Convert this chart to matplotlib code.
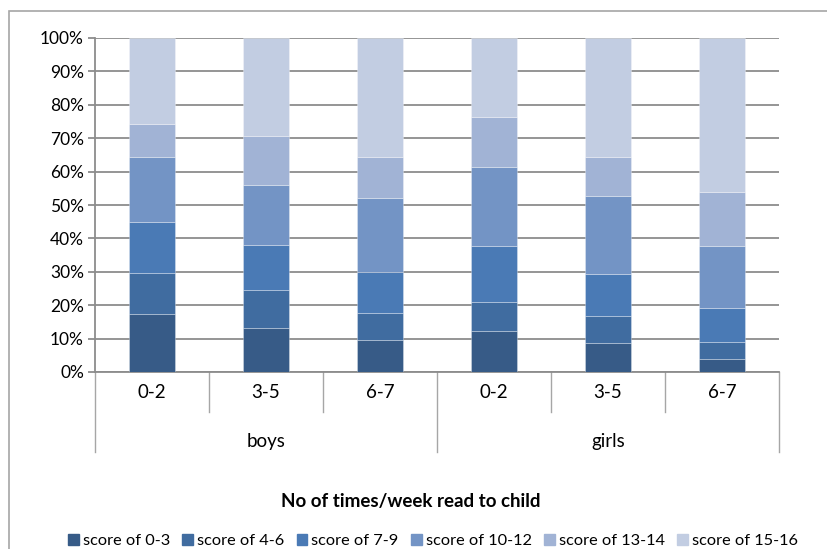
import matplotlib.pyplot as plt
from matplotlib.lines import Line2D
from matplotlib.patches import Rectangle
import numpy as np

plt.rcParams['font.family'] = ['Lato', 'DejaVu Sans']

GROUPS = ["boys", "girls"]
FREQ = ["0-2", "3-5", "6-7"]
SERIES = ["score of 0-3", "score of 4-6", "score of 7-9",
          "score of 10-12", "score of 13-14", "score of 15-16"]

# percent share per series, order: boys 0-2, 3-5, 6-7, girls 0-2, 3-5, 6-7
S0_3 = [17.5, 13.2, 9.7, 12.4, 8.8, 4.0]
S4_6 = [12.0, 11.3, 8.1, 8.7, 8.1, 5.1]
S7_9 = [15.4, 13.5, 12.2, 16.6, 12.5, 10.2]
S10_12 = [19.4, 18.0, 22.2, 23.8, 23.4, 18.5]
S13_14 = [10.0, 14.7, 12.2, 14.7, 11.6, 16.1]
S15_16 = [25.7, 29.3, 35.6, 23.8, 35.6, 46.1]

COLORS = ["#375B87", "#406CA0", "#4A7AB5", "#7394C5", "#A1B3D5", "#C2CDE2"]

fig = plt.figure(figsize=(8.27, 5.49), dpi=100)
ax = fig.add_axes([95 / 827, 177 / 549, 684 / 827, 334 / 549])

# chart border (cut off at right/bottom in the original)
fig.patches.append(Rectangle((9 / 827, -0.05), 1.0, (549 - 11) / 549 + 0.05,
                             transform=fig.transFigure, fill=False,
                             edgecolor="#A6A6A6", lw=1.2))

x = np.arange(6)
bottom = np.zeros(6)
data = [S0_3, S4_6, S7_9, S10_12, S13_14, S15_16]
for vals, name, col in zip(data, SERIES, COLORS):
    v = np.array(vals)
    ax.bar(x, v, width=0.4, bottom=bottom, color=col, label=name,
           edgecolor=(1, 1, 1, 0.35), linewidth=0.6, zorder=3)
    bottom += v

ax.set_xlim(-0.5, 5.5)
ax.set_ylim(0, 100)
ax.set_yticks(np.arange(0, 101, 10))
ax.set_yticklabels([f"{t}%" for t in range(0, 101, 10)])
ax.yaxis.grid(True, color="#8C8C8C", lw=1.3, zorder=0)
ax.tick_params(axis="y", length=5, width=1.3, color="#8C8C8C", labelsize=12.5, pad=3)
ax.set_xticks([])
for s in ["top", "right"]:
    ax.spines[s].set_visible(False)
for s in ["left", "bottom"]:
    ax.spines[s].set_color("#8C8C8C")
    ax.spines[s].set_linewidth(1.3)

# multi-level category axis
trans = ax.get_xaxis_transform()
px = 1 / 334  # one pixel in axes height units
row1 = -40 * px
row2 = -80 * px
for b in [-0.5, 0.5, 1.5, 2.5, 3.5, 4.5, 5.5]:
    low = row2 if b in (-0.5, 2.5, 5.5) else row1
    ax.add_line(Line2D([b, b], [0, low], transform=trans, color="#A6A6A6",
                       lw=1.0, clip_on=False))
for i in range(6):
    ax.text(i, -21 * px, FREQ[i % 3], transform=trans, ha="center",
            va="center", fontsize=13.5)
for j, g in enumerate(GROUPS):
    ax.text(1 + 3 * j, -69 * px, g, transform=trans, ha="center",
            va="center", fontsize=13.5)

fig.text(411 / 827, 1 - 501 / 549, "No of times/week read to child",
         ha="center", va="center", fontsize=13.5, fontweight="bold")

handles = [Rectangle((0, 0), 1, 1, color=c) for c in COLORS]
fig.legend(handles, SERIES, loc="center", bbox_to_anchor=(433 / 827, 1 - 541 / 549),
           ncol=6, frameon=False, fontsize=11.8, handlelength=0.65, handleheight=0.65,
           handletextpad=0.25, columnspacing=0.75)

fig.savefig("out.png", dpi=100)
